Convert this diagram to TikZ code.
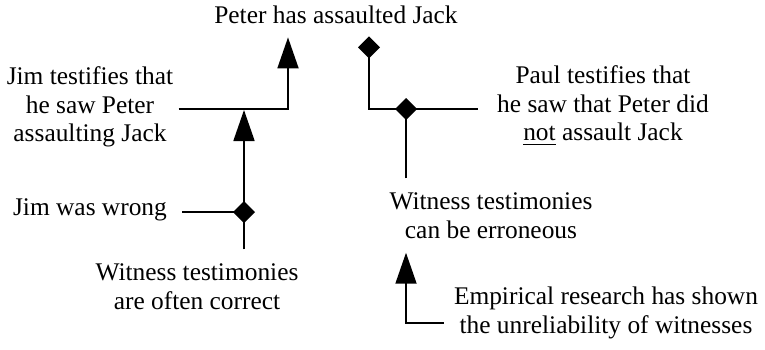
\documentclass[tikz,border=0pt]{standalone}
\usepackage{fontspec}
\setmainfont{Liberation Serif}
\usetikzlibrary{arrows.meta, calc}

\newcommand{\claimfont}{\fontsize{12.7}{14.3}\selectfont}

\begin{document}
\begin{tikzpicture}[
    x=0.5pt, y=-0.5pt,
    claim/.style={align=center, inner sep=0pt, font=\claimfont},
    support/.style={-{Triangle[length=15.5pt, width=10.5pt]}, line width=0.9pt},
    attack/.style={-{Diamond[length=11pt, width=11pt]}, line width=0.9pt},
]
\useasboundingbox (0,0) rectangle (765,349);

% ── Claims ──
\node[claim, anchor=base, text depth=0pt] (peter) at (336,23) {Peter has assaulted Jack};
\node[claim] (jimtest) at (90,107) {Jim testifies that\\he saw Peter\\assaulting Jack};
\node[claim] (paultest) at (603,105.5) {Paul testifies that\\he saw that Peter did\\\underline{not} assault Jack};
\node[claim, anchor=base] (jimwrong) at (90,215) {Jim was wrong};
\node[claim] (wtcorrect) at (197,286.5) {Witness testimonies\\are often correct};
\node[claim] (wterr) at (491,215.5) {Witness testimonies\\can be erroneous};
\node[claim] (empirical) at (606,313) {Empirical research has shown\\the unreliability of witnesses};

% ── Junctions ──
\coordinate (jleft) at (288,109);
\coordinate (jright) at (406,109);
\coordinate (jdown) at (406,323);
\coordinate (dleft) at (244,212);

% ── Arguments for and against Peter ──
\draw[support, shorten <=2.5pt, shorten >=7pt] (jimtest.east |- jleft) -| (peter.south -| jleft);
\draw[attack, shorten <=9.5pt, shorten >=6.5pt] (paultest.west |- jright) -| (peter.south -| 369,0);

% ── Warrants and undercutters ──
\draw[support, shorten <=7pt] (wtcorrect.north -| dleft) -- ([yshift=-0.5pt]jleft -| dleft);
\draw[attack, shorten <=7.5pt] (jimwrong.east |- dleft) -- ($(dleft)+(11,0)$);
\draw[attack, shorten <=7pt] (wterr.north -| jright) -- ($(jright)+(0,-11)$);
\draw[support, shorten <=5pt, shorten >=7pt] (empirical.west |- jdown) -| (wterr.south -| jdown);

\end{tikzpicture}
\end{document}
